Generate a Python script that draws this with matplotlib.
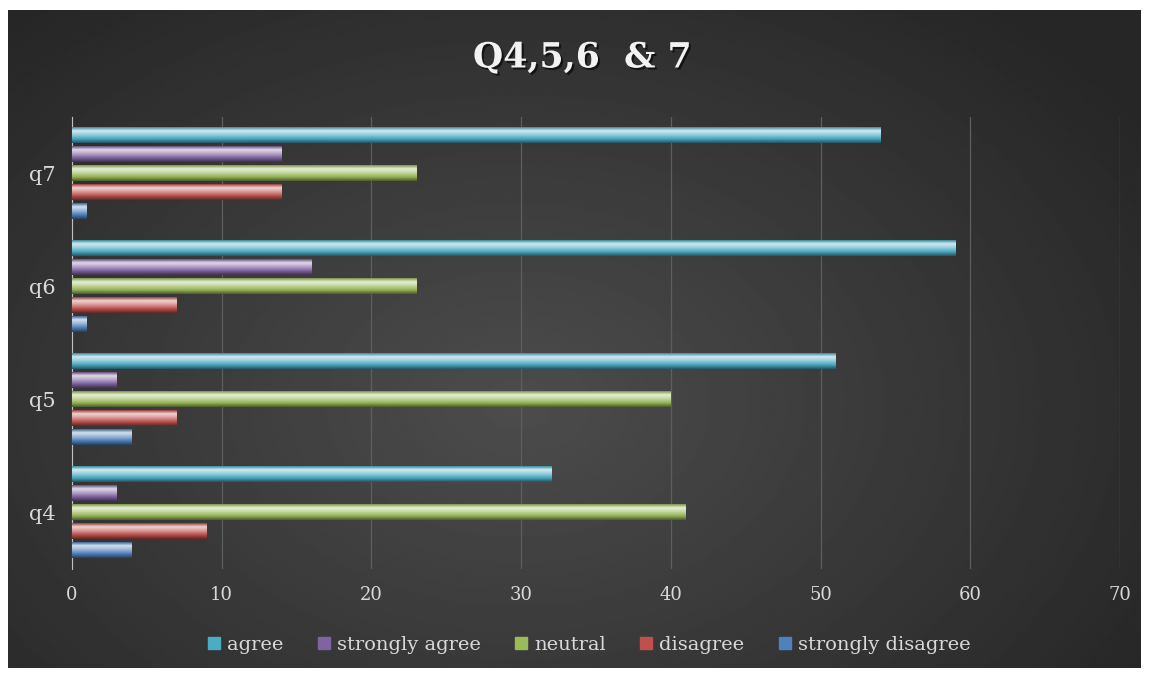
import numpy as np
import matplotlib.pyplot as plt
import matplotlib.patheffects as pe
from matplotlib.colors import to_rgb
from matplotlib.lines import Line2D

# data
questions = ['q4', 'q5', 'q6', 'q7']
series = ['agree', 'strongly agree', 'neutral', 'disagree', 'strongly disagree']
agree = [32, 51, 59, 54]
strongly_agree = [3, 3, 16, 14]
neutral = [41, 40, 23, 23]
disagree = [9, 7, 7, 14]
strongly_disagree = [4, 4, 1, 1]
values = [agree, strongly_agree, neutral, disagree, strongly_disagree]
colors = ['#4bacc6', '#8064a2', '#9bbb59', '#c0504d', '#4f81bd']
xticks = [0, 10, 20, 30, 40, 50, 60, 70]

plt.rcParams['font.family'] = ['DejaVu Serif']

fig = plt.figure(figsize=(11.49, 6.76), dpi=100, facecolor='white')

# dark panel with soft radial glow
bg = fig.add_axes([8 / 1149, 8 / 676, 1133 / 1149, 658 / 676])
bg.set_axis_off()
yy, xx = np.mgrid[0:1:300j, 0:1:500j]
r = np.sqrt(((xx - 0.45) / 0.75) ** 2 + ((yy - 0.6) / 0.9) ** 2)
shade_bg = np.clip(0.30 - 0.17 * r, 0.15, 0.30)
bg.imshow(shade_bg, cmap='gray', vmin=0, vmax=1, aspect='auto',
          extent=[0, 1, 0, 1], interpolation='bilinear')
bg.set_xlim(0, 1)
bg.set_ylim(0, 1)

ax = fig.add_axes([72 / 1149, 107 / 676, 1048 / 1149, 452 / 676])
ax.set_facecolor('none')


def bar_gradient(color, n=40):
    base = np.array(to_rgb(color))
    white = np.ones(3)
    stops = [(0.0, base * 0.5), (0.25, base * 0.95), (0.55, base * 0.55 + white * 0.45),
             (0.78, base * 0.25 + white * 0.75), (1.0, base * 0.8)]
    t = np.linspace(0, 1, n)
    pos = [s[0] for s in stops]
    img = np.zeros((n, 1, 3))
    for c in range(3):
        img[:, 0, c] = np.interp(t, pos, [s[1][c] for s in stops])
    return img


pitch = 0.168
height = 0.14
y = np.arange(len(questions))
for i, (name, vals, col) in enumerate(zip(series, values, colors)):
    offset = (2 - i) * pitch
    grad = bar_gradient(col)
    for yi, v in zip(y, vals):
        yc = yi + offset
        ax.imshow(grad, extent=[0, v, yc - height / 2, yc + height / 2],
                  origin='lower', aspect='auto', interpolation='bilinear', zorder=3)

ax.set_xlim(0, 70)
ax.set_ylim(-0.5, 3.5)
ax.set_xticks(xticks)
ax.set_yticks(y)
ax.set_yticklabels(questions)
ax.grid(axis='x', color='#5e5e5e', linewidth=0.9)
ax.set_axisbelow(True)
for s in ['top', 'right', 'bottom']:
    ax.spines[s].set_visible(False)
ax.spines['left'].set_color('#bfbfbf')
ax.tick_params(axis='both', length=0, colors='#d9d9d9')
ax.tick_params(axis='x', labelsize=13, pad=12)
ax.tick_params(axis='y', labelsize=15, pad=12)

fig.text(0.507, 0.915, 'Q4,5,6  & 7', ha='center', va='center', fontsize=25,
         fontweight='bold', color='#f2f2f2',
         path_effects=[pe.withSimplePatchShadow(offset=(1.5, -1.5), shadow_rgbFace='black', alpha=0.6)])

handles = [Line2D([], [], marker='s', linestyle='none', markersize=8,
                  markerfacecolor=c, markeredgecolor=c) for c in colors]
leg = fig.legend(handles, series, loc='center', bbox_to_anchor=(0.512, 0.046), ncol=5,
                 frameon=False, fontsize=14, handletextpad=0.25, columnspacing=1.7,
                 handlelength=0.8)
for t in leg.get_texts():
    t.set_color('#d9d9d9')

fig.savefig('out.png', dpi=100, facecolor='white')
